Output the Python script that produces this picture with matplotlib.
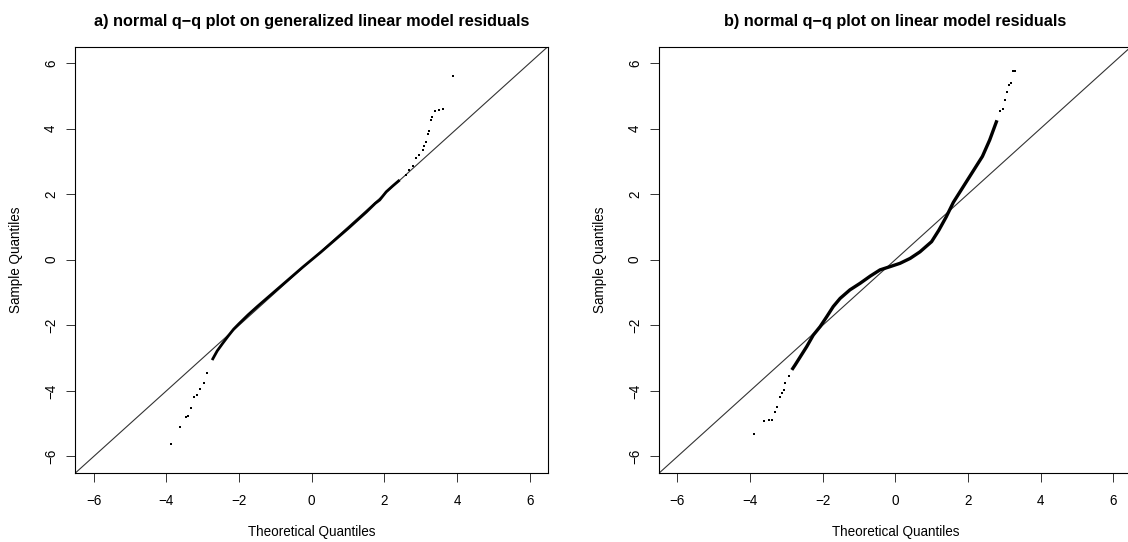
"""
Normal q-q plots of residuals, two panels side by side.
"""

import matplotlib
matplotlib.use("Agg")
import matplotlib.pyplot as plt

plt.rcParams["font.family"] = ["Liberation Sans", "DejaVu Sans"]

# panel a: generalized linear model residuals
# dense middle part of the cloud (theoretical, sample)
body_theo_a = [-2.74, -2.6, -2.45, -2.3, -2.15, -2.0, -1.75, -1.5, -1.25,
               -1.0, -0.75, -0.5, -0.25, 0.0, 0.25, 0.5, 0.75, 1.0, 1.25,
               1.5, 1.75, 1.87, 2.05, 2.23, 2.42]
body_samp_a = [-3.06, -2.78, -2.55, -2.33, -2.12, -1.95, -1.68, -1.43, -1.19,
               -0.95, -0.71, -0.47, -0.23, 0.0, 0.23, 0.47, 0.71, 0.95, 1.2,
               1.45, 1.72, 1.82, 2.07, 2.25, 2.43]
# single points in the tails
tail_theo_a = [-3.88, -3.63, -3.47, -3.40, -3.32, -3.25, -3.15, -3.06, -2.97,
               -2.88, 2.60, 2.69, 2.78, 2.87, 2.96, 3.06, 3.10, 3.15, 3.19,
               3.24, 3.27, 3.31, 3.40, 3.49, 3.60, 3.90]
tail_samp_a = [-5.61, -5.09, -4.79, -4.77, -4.51, -4.20, -4.13, -3.95, -3.77,
               -3.46, 2.58, 2.73, 2.86, 3.09, 3.19, 3.34, 3.47, 3.60, 3.83,
               3.92, 4.26, 4.36, 4.53, 4.56, 4.59, 5.61]

# panel b: linear model residuals
body_theo_b = [-2.85, -2.76, -2.64, -2.44, -2.26, -2.07, -1.89, -1.71, -1.52,
               -1.25, -0.97, -0.69, -0.42, -0.14, 0.13, 0.41, 0.68, 1.0, 1.2,
               1.4, 1.6, 1.8, 2.0, 2.2, 2.4, 2.6, 2.8]
body_samp_b = [-3.36, -3.21, -3.00, -2.65, -2.30, -2.04, -1.74, -1.43, -1.18,
               -0.92, -0.72, -0.50, -0.31, -0.21, -0.11, 0.04, 0.24, 0.55, 0.9,
               1.3, 1.75, 2.1, 2.45, 2.8, 3.15, 3.65, 4.25]
tail_theo_b = [-3.89, -3.61, -3.48, -3.40, -3.31, -3.25, -3.17, -3.13, -3.06,
               -3.03, -2.94, 2.89, 2.96, 3.02, 3.09, 3.14, 3.18, 3.25, 3.30]
tail_samp_b = [-5.30, -4.92, -4.89, -4.89, -4.63, -4.48, -4.18, -4.07, -3.97,
               -3.75, -3.55, 4.54, 4.58, 4.87, 5.12, 5.33, 5.40, 5.76, 5.76]

ticks = [-6, -4, -2, 0, 2, 4, 6]
tick_labels = ["\u22126", "\u22124", "\u22122", "0", "2", "4", "6"]


def qq_panel(ax, title, body_x, body_y, tail_x, tail_y, body_lw):
    """
    draw one normal q-q panel in the style of R's qqnorm.
    """
    ax.plot([-7, 7], [-7, 7], color="#333333", lw=0.8, zorder=1)
    ax.plot(body_x, body_y, color="black", lw=body_lw,
            solid_capstyle="butt", zorder=2)
    ax.plot(tail_x, tail_y, ls="none", marker="s", ms=1.6, mew=0,
            color="black", zorder=3)
    ax.set_xlim(-6.5, 6.5)
    ax.set_ylim(-6.5, 6.5)
    ax.set_xticks(ticks)
    ax.set_xticklabels(tick_labels)
    ax.set_yticks(ticks)
    ax.set_yticklabels(tick_labels, rotation=90, va="center")
    ax.tick_params(length=6.5, width=0.7, color="#333333", labelsize=9.75,
                   direction="out")
    ax.tick_params(axis="x", pad=8.5)
    ax.tick_params(axis="y", pad=6)
    for sp in ax.spines.values():
        sp.set_linewidth(0.8)
    ax.set_xlabel("Theoretical Quantiles", fontsize=9.75)
    ax.set_ylabel("Sample Quantiles", fontsize=9.75)
    ax.xaxis.set_label_coords(0.5, -0.122)
    ax.yaxis.set_label_coords(-0.111, 0.5)
    ax.set_title(title, fontsize=11.7, fontweight="bold", y=1.048, pad=0)


fig = plt.figure(figsize=(11.28, 5.42), dpi=100)
ax_a = fig.add_axes([0.0669, 0.1275, 0.4189, 0.7867])
ax_b = fig.add_axes([0.5845, 0.1275, 0.4184, 0.7867])
qq_panel(ax_a, "a) normal q\u2212q plot on generalized linear model residuals",
         body_theo_a, body_samp_a, tail_theo_a, tail_samp_a, 2.0)
qq_panel(ax_b, "b) normal q\u2212q plot on linear model residuals",
         body_theo_b, body_samp_b, tail_theo_b, tail_samp_b, 2.4)
fig.savefig("out.png", dpi=100)
